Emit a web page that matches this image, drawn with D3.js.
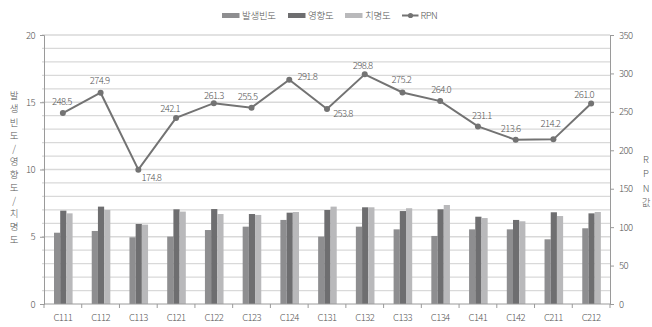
<!DOCTYPE html>
<html><head><meta charset="utf-8">
<script src="https://cdn.jsdelivr.net/npm/d3@7"></script>
<style>
html,body{margin:0;padding:0;background:#fff;}
text{font-family:"Noto Sans CJK KR","Noto Sans",sans-serif;fill:#555;font-weight:300;}
</style></head>
<body><svg id="c" width="652" height="327"></svg>
<script>
const categories = ["C111","C112","C113","C121","C122","C123","C124","C131","C132","C133","C134","C141","C142","C211","C212"];
const seriesNames = ["발생빈도","영향도","치명도"];
const occurrence = [5.30,5.43,4.96,5.01,5.50,5.75,6.25,5.01,5.75,5.55,5.06,5.55,5.55,4.81,5.63];
const impact     = [6.94,7.24,5.95,7.04,7.06,6.69,6.79,6.99,7.19,6.91,7.04,6.49,6.25,6.82,6.74];
const severity   = [6.74,6.99,5.90,6.87,6.69,6.62,6.84,7.24,7.19,7.12,7.36,6.39,6.15,6.54,6.84];
const rpn        = [248.5,274.9,174.8,242.1,261.3,255.5,291.8,253.8,298.8,275.2,264.0,231.1,213.6,214.2,261.0];
const leftTicks  = [0,5,10,15,20];
const rightTicks = [0,50,100,150,200,250,300,350];
const leftTitle  = "발생빈도/영향도/치명도";
const rightTitle = "RPN값";
const lineName   = "RPN";
// label placement nudges (layout only)
const rpnLabelNudge = [[-1,-11],[-1,-12],[13,8],[-6,-9],[0,-7],[-4,-11],[18,-3],[16,5],[-2,-9],[-1,-13],[1,-11],[4,-11],[-5,-11],[-3,-16],[-7,-9]];

const colors = ["#8e8e90","#6e6e70","#b9b9bb"];
const lineColor = "#737373";
const svg = d3.select("#c");
const L = 44, R = 610, T = 35, B = 304;

const x = d3.scaleBand().domain(categories).range([L, R]).padding(0);
const x1 = d3.scaleBand().domain(seriesNames).range([10, 28.6]).padding(0);
const yL = d3.scaleLinear().domain([0,20]).range([B, T]);
const yR = d3.scaleLinear().domain([0,350]).range([B, T]);

// gridlines
svg.append("g").selectAll("line").data(d3.range(1,21)).join("line")
  .attr("x1", L-2).attr("x2", R).attr("y1", d=>yL(d)).attr("y2", d=>yL(d))
  .attr("stroke","#d9d9d9").attr("stroke-width",1.3);

// bars
const seriesVals = [occurrence, impact, severity];
const g = svg.append("g");
categories.forEach((c,i)=>{
  seriesNames.forEach((s,j)=>{
    g.append("rect").attr("x", x(c)+x1(s)).attr("width", x1.bandwidth())
     .attr("y", yL(seriesVals[j][i])).attr("height", B - yL(seriesVals[j][i]))
     .attr("fill", colors[j]);
  });
});

// axes
const axL = svg.append("g").attr("transform",`translate(${L},0)`)
  .call(d3.axisLeft(yL).tickValues(leftTicks).tickSize(4).tickPadding(5));
const axR = svg.append("g").attr("transform",`translate(${R},0)`)
  .call(d3.axisRight(yR).tickValues(rightTicks).tickSize(4).tickPadding(5));
const axB = svg.append("g").attr("transform",`translate(0,${B})`)
  .call(d3.axisBottom(x).tickSize(0).tickPadding(10));
[axL,axR,axB].forEach(a=>{
  a.select(".domain").attr("stroke","#9a9a9a");
  a.selectAll(".tick line").attr("stroke","#9a9a9a");
  a.selectAll("text").attr("fill","#555").style("font-size","9.5px").style("letter-spacing","-0.6px")
   .style("font-family",'"Noto Sans CJK KR","Noto Sans",sans-serif').style("font-weight","300");
});
axB.select(".domain").attr("d",`M${L},0H${R}`);
// category boundary ticks
svg.append("g").selectAll("line").data(categories.concat(["_end"])).join("line")
  .attr("x1",(d,i)=>x.range()[0]+i*x.bandwidth()).attr("x2",(d,i)=>x.range()[0]+i*x.bandwidth())
  .attr("y1",B).attr("y2",B+4).attr("stroke","#9a9a9a");

// line
const cx = c => x(c) + x.bandwidth()/2;
svg.append("path").datum(rpn)
  .attr("d", d3.line().x((d,i)=>cx(categories[i])).y(d=>yR(d)))
  .attr("fill","none").attr("stroke",lineColor).attr("stroke-width",2);
svg.append("g").selectAll("circle").data(rpn).join("circle")
  .attr("cx",(d,i)=>cx(categories[i])).attr("cy",d=>yR(d)).attr("r",3).attr("fill",lineColor);
svg.append("g").selectAll("text").data(rpn).join("text")
  .attr("x",(d,i)=>cx(categories[i])+rpnLabelNudge[i][0])
  .attr("y",(d,i)=>yR(d)+rpnLabelNudge[i][1])
  .attr("dy","0.35em").attr("text-anchor","middle")
  .style("font-size","9.5px").style("letter-spacing","-0.6px")
  .text(d=>d.toFixed(1));

// axis titles (stacked vertically)
svg.append("g").selectAll("text").data(Array.from(leftTitle)).join("text")
  .attr("x",14).attr("y",(d,i)=>96+i*13.1).attr("dy","0.35em").attr("text-anchor","middle")
  .style("font-size","9.5px").text(d=>d);
svg.append("g").selectAll("text").data(Array.from(rightTitle)).join("text")
  .attr("x",646).attr("y",(d,i)=>159.5+i*14.4).attr("dy","0.35em").attr("text-anchor","middle")
  .style("font-size","9.5px").text(d=>d);

// legend
const legend = svg.append("g");
const legX = [222, 288, 345];
seriesNames.forEach((s,j)=>{
  legend.append("rect").attr("x",legX[j]).attr("y",13).attr("width",17.5).attr("height",5).attr("fill",colors[j]);
  legend.append("text").attr("x",legX[j]+20).attr("y",15.7).attr("dy","0.35em")
    .style("font-size","9.5px").style("letter-spacing","-0.3px").text(s);
});
legend.append("line").attr("x1",402).attr("x2",418.5).attr("y1",15.5).attr("y2",15.5).attr("stroke",lineColor).attr("stroke-width",2);
legend.append("circle").attr("cx",410.5).attr("cy",15.5).attr("r",2.6).attr("fill",lineColor);
legend.append("text").attr("x",420.5).attr("y",15.7).attr("dy","0.35em")
  .style("font-size","9.5px").style("letter-spacing","-0.5px").text(lineName);
</script></body></html>
